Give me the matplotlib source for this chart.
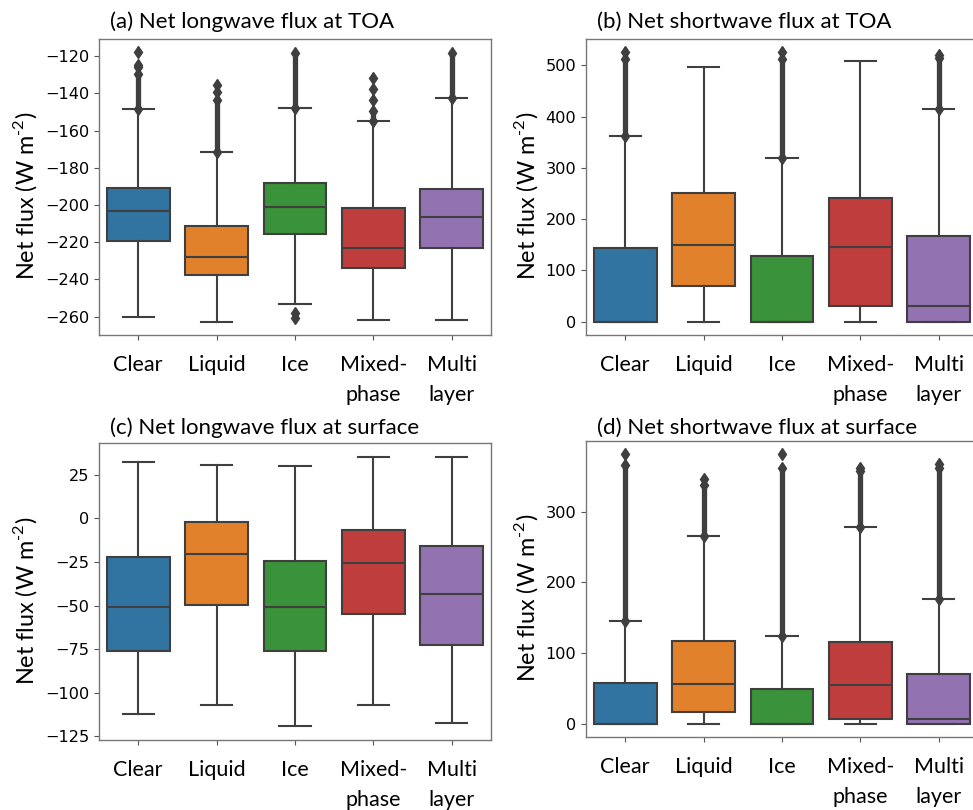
import matplotlib
matplotlib.use('Agg')
import matplotlib.pyplot as plt
from matplotlib.ticker import MultipleLocator

# categories and colours (seaborn default palette, desaturated)
cats = ['Clear', 'Liquid', 'Ice', 'Mixed-\nphase', 'Multi\nlayer']
colors = ['#3274a1', '#e1812c', '#3a923a', '#c03d3e', '#9372b2']
gray = '#3f3f3f'

# (a) Net longwave flux at TOA
a_q1 = [-219.4, -237.8, -215.4, -234.0, -223.3]
a_med = [-203.1, -227.9, -200.9, -222.9, -206.5]
a_q3 = [-191.1, -211.3, -188.2, -201.6, -191.4]
a_wlo = [-260.0, -262.7, -253.4, -261.8, -261.8]
a_whi = [-148.5, -171.4, -147.8, -154.7, -142.6]
a_dense = [(-148.5, -129.5), (-171.4, -143.6), (-147.8, -118.5), (-154.7, -149.5), (-142.6, -118.5)]
a_pts = [[-126.0, -124.5, -118.0], [-139.2, -135.6], [-258.2, -260.9], [-131.5, -137.9, -143.3], []]

# (b) Net shortwave flux at TOA
b_q1 = [0, 70, 0, 31, 0]
b_med = [0, 149, 0, 145.7, 29.8]
b_q3 = [144.4, 250.6, 127.6, 241.5, 166.5]
b_wlo = [0, 0, 0, 0, 0]
b_whi = [362, 497.4, 320, 508.4, 413.8]
b_dense = [(362, 512), None, (320, 512), None, (414, 515)]
b_pts = [[525], [], [525], [], [520]]

# (c) Net longwave flux at surface
c_q1 = [-76.0, -49.5, -75.8, -54.7, -72.5]
c_med = [-50.7, -20.6, -51.0, -25.7, -43.2]
c_q3 = [-22.0, -1.8, -24.4, -6.4, -16.0]
c_wlo = [-112.2, -107.0, -119.4, -107.0, -117.5]
c_whi = [32.1, 30.6, 30.2, 35.5, 35.5]
c_dense = [None, None, None, None, None]
c_pts = [[], [], [], [], []]

# (d) Net shortwave flux at surface
d_q1 = [0, 15.9, 0, 6, 0]
d_med = [0, 56.4, 0, 54.5, 6.5]
d_q3 = [57.3, 117, 48.4, 115.6, 70]
d_wlo = [0, 0, 0, 0, 0]
d_whi = [145.3, 266, 123.6, 278.7, 176.7]
d_dense = [(145.3, 366), (266, 338), (123.6, 362), (278.7, 358), (176.7, 362)]
d_pts = [[380.8], [345.5], [380.8], [362], [366.7]]

plt.rcParams['mathtext.fontset'] = 'custom'
plt.rcParams['mathtext.rm'] = 'Lato'
label_font = 'Lato'

fig = plt.figure(figsize=(9.73, 8.10), dpi=100)

W, H = 973.0, 810.0
# axes boxes in pixels: left, top, right, bottom
boxes = [(99, 39, 491, 335), (586, 39, 978, 335),
         (99, 443, 491, 740), (586, 441, 978, 737)]
titles = ['(a) Net longwave flux at TOA', '(b) Net shortwave flux at TOA',
          '(c) Net longwave flux at surface', '(d) Net shortwave flux at surface']
title_off = [11, 11, 9, 7]
steps = [20, 100, 25, 100]
panels = [(a_q1, a_med, a_q3, a_wlo, a_whi, a_dense, a_pts),
          (b_q1, b_med, b_q3, b_wlo, b_whi, b_dense, b_pts),
          (c_q1, c_med, c_q3, c_wlo, c_whi, c_dense, c_pts),
          (d_q1, d_med, d_q3, d_wlo, d_whi, d_dense, d_pts)]

for k, (l, t, r, b) in enumerate(boxes):
    ax = fig.add_axes([l / W, 1 - b / H, (r - l) / W, (b - t) / H])
    q1, med, q3, wlo, whi, dense, pts = panels[k]

    stats = []
    for i in range(5):
        stats.append(dict(q1=q1[i], med=med[i], q3=q3[i],
                          whislo=wlo[i], whishi=whi[i], fliers=[]))
    res = ax.bxp(stats, positions=range(5), widths=0.8, capwidths=0.4,
                 patch_artist=True, showfliers=False,
                 boxprops=dict(edgecolor=gray, linewidth=1.5),
                 medianprops=dict(color=gray, linewidth=1.5),
                 whiskerprops=dict(color=gray, linewidth=1.5),
                 capprops=dict(color=gray, linewidth=1.5))
    for patch, c in zip(res['boxes'], colors):
        patch.set_facecolor(c)

    # outliers: dense runs drawn as a column, isolated ones as diamonds
    for i in range(5):
        if dense[i] is not None:
            ax.vlines(i, dense[i][0], dense[i][1], color=gray, linewidth=3.8, zorder=1)
            ax.plot([i, i], dense[i], 'd', color=gray, markersize=6, zorder=1)
        if pts[i]:
            ax.plot([i] * len(pts[i]), pts[i], 'd', color=gray, markersize=6, zorder=1)

    ax.set_xlim(-0.5, 4.5)
    ax.yaxis.set_major_locator(MultipleLocator(steps[k]))
    ax.set_xticks(range(5))
    ax.set_xticklabels(cats, fontfamily=label_font, fontsize=15.5, linespacing=1.6)
    ax.tick_params(axis='y', labelsize=11.6, length=3.5, color='#555555')
    ax.tick_params(axis='x', length=3.5, color='#555555', pad=11)
    for s in ax.spines.values():
        s.set_color('#777777')
        s.set_linewidth(1.0)
    ax.set_ylabel('Net flux (W m$^{\\text{-2}}$)', fontfamily=label_font,
                  fontsize=16.8, y=0.47)
    ax.annotate(titles[k], xy=(0, 1), xycoords='axes fraction',
                xytext=(11 * 0.72, title_off[k] * 0.72), textcoords='offset points',
                ha='left', va='baseline', fontfamily=label_font, fontsize=16)

fig.savefig('out.png', dpi=100)
